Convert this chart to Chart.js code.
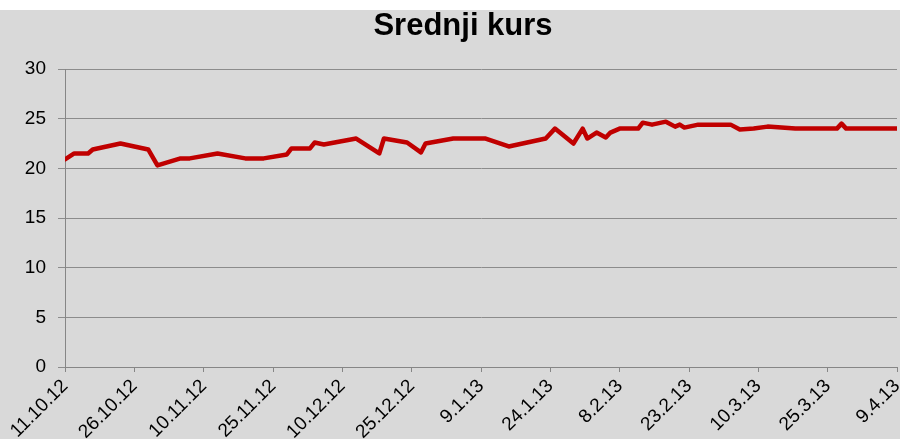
<!DOCTYPE html>
<html lang="hr">
<head>
<meta charset="UTF-8">
<title>Srednji kurs</title>
<script src="https://cdn.jsdelivr.net/npm/chart.js"></script>
<style>
  html, body { margin: 0; padding: 0; background: #fff; }
  #wrap { width: 900px; height: 439px; }
</style>
</head>
<body>
<div id="wrap"><canvas id="kurs" width="900" height="439"></canvas></div>
<script>
// datumi i vrijednosti ocitani s grafa
const dates = ['11.10.12','13.10.12','16.10.12','17.10.12','23.10.12','29.10.12','31.10.12',
  '5.11.12','7.11.12','13.11.12','19.11.12','23.11.12','28.11.12','29.11.12',
  '3.12.12','4.12.12','6.12.12','13.12.12','18.12.12','19.12.12','24.12.12','27.12.12','28.12.12',
  '3.1.13','10.1.13','15.1.13','23.1.13','25.1.13','29.1.13','31.1.13',
  '1.2.13','3.2.13','5.2.13','6.2.13','8.2.13','12.2.13','13.2.13','15.2.13','18.2.13','20.2.13','21.2.13','22.2.13','25.2.13',
  '4.3.13','6.3.13','9.3.13','12.3.13','18.3.13','27.3.13','28.3.13','29.3.13','9.4.13'];
const values = [20.9, 21.5, 21.5, 21.9, 22.5, 21.9, 20.3,
  21.0, 21.0, 21.5, 21.0, 21.0, 21.4, 22.0,
  22.0, 22.6, 22.4, 23.0, 21.5, 23.0, 22.6, 21.6, 22.5,
  23.0, 23.0, 22.2, 23.0, 24.0, 22.5, 24.0,
  23.0, 23.6, 23.1, 23.6, 24.0, 24.0, 24.6, 24.4, 24.7, 24.2, 24.4, 24.1, 24.4,
  24.4, 23.9, 24.0, 24.2, 24.0, 24.0, 24.5, 24.0, 24.0];
const tickLabels = ['11.10.12','26.10.12','10.11.12','25.11.12','10.12.12','25.12.12',
  '9.1.13','24.1.13','8.2.13','23.2.13','10.3.13','25.3.13','9.4.13'];
const titleText = 'Srednji kurs';

function toDay(s) {
  const p = s.split('.').map(Number);
  return Date.UTC(2000 + p[2], p[1] - 1, p[0]) / 86400000;
}
const day0 = toDay(dates[0]);
const points = dates.map((d, i) => ({ x: toDay(d) - day0, y: values[i] }));

// siva pozadina i naslov (malo desno od sredine, kao u Excelu)
const bg = {
  id: 'bg',
  beforeDraw(chart) {
    const c = chart.ctx;
    c.save();
    c.fillStyle = '#d9d9d9';
    c.fillRect(0, 10, chart.width, chart.height - 10);
    c.restore();
  },
  afterDraw(chart) {
    const c = chart.ctx;
    c.save();
    c.fillStyle = '#000';
    c.font = 'bold 31px "Liberation Sans"';
    c.textAlign = 'center';
    c.textBaseline = 'alphabetic';
    c.fillText(titleText, 463, 35);
    c.restore();
  }
};

new Chart(document.getElementById('kurs'), {
  type: 'line',
  data: {
    datasets: [{
      data: points,
      borderColor: '#c00000',
      borderWidth: 4.5,
      pointRadius: 0,
      tension: 0,
      borderJoinStyle: 'round',
      borderCapStyle: 'round'
    }]
  },
  options: {
    responsive: false,
    animation: false,
    layout: { padding: { left: 0, right: 3, top: 0, bottom: 0 } },
    plugins: {
      legend: { display: false },
      tooltip: { enabled: false },
      title: {
        display: true,
        text: titleText,
        color: 'rgba(0,0,0,0)',
        font: { family: 'Liberation Sans', size: 30, weight: 'bold' },
        padding: { top: 8, bottom: 25 }
      }
    },
    scales: {
      x: {
        type: 'linear',
        min: 0,
        max: 180,
        afterBuildTicks(s) {
          s.ticks = tickLabels.map((t, i) => ({ value: i * 15 }));
        },
        afterFit(s) {
          s.height = 72;
          s.paddingLeft = 0;
          s.paddingRight = 0;
        },
        grid: { drawOnChartArea: false, drawTicks: true, tickLength: 5, color: '#868686' },
        border: { color: '#868686' },
        ticks: {
          autoSkip: false,
          maxRotation: 45,
          minRotation: 45,
          padding: 3,
          color: '#000',
          font: { family: 'Liberation Sans', size: 19 },
          callback: (v, i) => tickLabels[i]
        }
      },
      y: {
        min: 0,
        max: 30,
        afterFit(s) {
          s.width = 65;
          s.paddingTop = 0;
          s.paddingBottom = 0;
        },
        grid: { color: '#8c8c8c', tickLength: 7 },
        border: { color: '#868686' },
        ticks: {
          stepSize: 5,
          padding: 12,
          color: '#000',
          font: { family: 'Liberation Sans', size: 19 }
        }
      }
    }
  },
  plugins: [bg]
});
</script>
</body>
</html>
